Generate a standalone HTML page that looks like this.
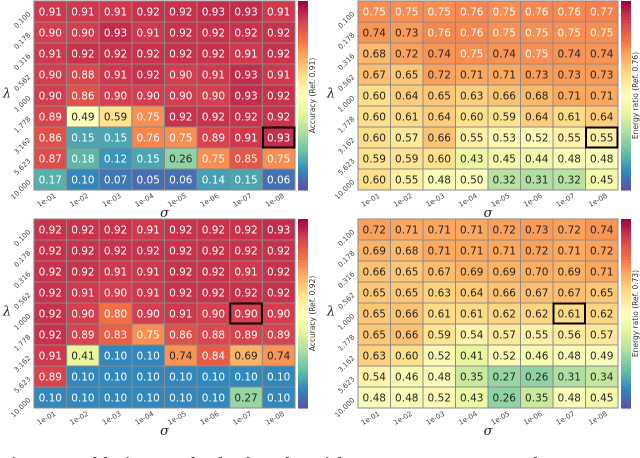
<!DOCTYPE html>
<html><head><meta charset="utf-8">
<style>
html,body{margin:0;padding:0;background:#fff;width:640px;height:458px;overflow:hidden;position:relative}
svg{position:absolute;left:0;top:0}
.cap{position:absolute;left:0;top:454px;font:bold 17px "Liberation Serif",serif;color:#444;white-space:nowrap;letter-spacing:1px}
</style></head><body>
<svg id="fig" width="640" height="458"></svg>
<div class="cap">Figure 4: Ablation results for λ and σ with FAR on CIFAR-10 and ECSSD</div>
<script>
const sigmaLabels = ["1e-01","1e-02","1e-03","1e-04","1e-05","1e-06","1e-07","1e-08"];
const lambdaLabels = ["0.100","0.178","0.316","0.562","1.000","1.778","3.162","5.623","10.000"];
const accTop = [
[0.91,0.91,0.91,0.92,0.92,0.93,0.93,0.91],
[0.90,0.90,0.93,0.91,0.92,0.92,0.92,0.92],
[0.91,0.92,0.92,0.92,0.92,0.92,0.91,0.92],
[0.90,0.88,0.91,0.92,0.90,0.91,0.93,0.91],
[0.90,0.86,0.90,0.90,0.90,0.90,0.93,0.92],
[0.89,0.49,0.59,0.75,0.92,0.92,0.92,0.92],
[0.86,0.15,0.15,0.76,0.75,0.89,0.91,0.93],
[0.87,0.18,0.12,0.15,0.26,0.75,0.85,0.75],
[0.17,0.10,0.07,0.05,0.06,0.14,0.15,0.06]];
const energyTop = [
[0.75,0.75,0.75,0.76,0.75,0.76,0.76,0.77],
[0.74,0.73,0.76,0.76,0.75,0.75,0.75,0.75],
[0.68,0.72,0.74,0.75,0.74,0.75,0.74,0.74],
[0.67,0.65,0.72,0.71,0.71,0.73,0.73,0.73],
[0.60,0.64,0.65,0.63,0.66,0.68,0.71,0.71],
[0.60,0.61,0.64,0.60,0.59,0.64,0.61,0.64],
[0.60,0.57,0.66,0.55,0.53,0.52,0.55,0.55],
[0.59,0.59,0.60,0.43,0.45,0.44,0.48,0.48],
[0.60,0.55,0.48,0.50,0.32,0.31,0.32,0.45]];
const accBottom = [
[0.92,0.92,0.92,0.91,0.92,0.92,0.92,0.93],
[0.92,0.92,0.92,0.92,0.92,0.92,0.92,0.92],
[0.92,0.92,0.91,0.91,0.92,0.92,0.91,0.92],
[0.92,0.91,0.90,0.91,0.92,0.92,0.92,0.92],
[0.92,0.90,0.80,0.90,0.91,0.90,0.90,0.90],
[0.92,0.89,0.83,0.75,0.86,0.88,0.89,0.89],
[0.91,0.41,0.10,0.10,0.74,0.84,0.69,0.74],
[0.89,0.10,0.10,0.10,0.10,0.10,0.10,0.10],
[0.10,0.10,0.10,0.10,0.10,0.10,0.27,0.10]];
const energyBottom = [
[0.72,0.71,0.71,0.71,0.72,0.73,0.72,0.74],
[0.69,0.68,0.71,0.71,0.71,0.72,0.71,0.72],
[0.66,0.65,0.67,0.69,0.69,0.70,0.69,0.71],
[0.65,0.65,0.63,0.64,0.66,0.67,0.67,0.65],
[0.65,0.66,0.61,0.61,0.62,0.62,0.61,0.62],
[0.65,0.66,0.59,0.54,0.57,0.55,0.56,0.57],
[0.63,0.60,0.52,0.41,0.52,0.46,0.48,0.49],
[0.54,0.46,0.48,0.35,0.27,0.26,0.31,0.34],
[0.48,0.48,0.52,0.43,0.26,0.35,0.48,0.45]];
const panelTitles = ["Accuracy (Ref. 0.91)","Energy ratio (Ref. 0.76)","Accuracy (Ref. 0.92)","Energy ratio (Ref. 0.73)"];
const bestCells = [[6,7],[6,7],[4,6],[4,6]];

const stops=["#9e0142","#d53e4f","#f46d43","#fdae61","#fee08b","#ffffbf","#e6f598","#abdda4","#66c2a5","#3288bd","#5e4fa2"];
function hex(h){return [1,3,5].map(i=>parseInt(h.substr(i,2),16));}
function cmap(v){
  let t=(1-Math.max(0,Math.min(1,v)))*(stops.length-1);
  let i=Math.min(Math.floor(t),stops.length-2),f=t-i;
  let a=hex(stops[i]),b=hex(stops[i+1]);
  return "rgb("+a.map((x,k)=>Math.round(x+(b[k]-x)*f)).join(",")+")";
}
const NS="http://www.w3.org/2000/svg";
const svg=document.getElementById("fig");
function mk(tag,attrs,parent){const e=document.createElementNS(NS,tag);for(const k in attrs)e.setAttribute(k,attrs[k]);(parent||svg).appendChild(e);return e;}

function panel(data,x0,y0,w,h,cbx,title,best,pname){
  const g=mk("g",{});
  
  
  const nr=data.length,nc=data[0].length,cw=w/nc,ch=h/nr;
  const xs=c=>x0+c*cw, ys=r=>y0+r*ch;
  for(let r=0;r<nr;r++)for(let c=0;c<nc;c++){
    const v=data[r][c];
    const rc=mk("rect",{x:xs(c),y:ys(r),width:cw,height:ch,fill:cmap(v),stroke:"#8a8a8a","stroke-width":1},g);
    
    
    const t=mk("text",{x:xs(c)+cw/2,y:ys(r)+ch/2+4,"text-anchor":"middle","font-size":"10.5","font-family":"DejaVu Sans, Liberation Sans, sans-serif",fill:(v>=0.75||v<0.22)?"#fff":"#262626"},g);
    t.textContent=v.toFixed(2);
    
    
  }
  const b=mk("rect",{x:xs(best[1])+0.5,y:ys(best[0])+0.5,width:cw-1,height:ch-1,fill:"none",stroke:"#000","stroke-width":2},g);
  
  
  lambdaLabels.forEach((l,r)=>{
    const t=mk("text",{x:0,y:0,"text-anchor":"end","font-size":"7","font-family":"DejaVu Sans, sans-serif",fill:"#444",transform:`translate(${x0-3},${ys(r)+ch/2+3}) rotate(-45)`},g);
    t.textContent=l;
    
    
  });
  sigmaLabels.forEach((l,c)=>{
    const t=mk("text",{x:0,y:0,"text-anchor":"end","font-size":"7","font-family":"DejaVu Sans, sans-serif",fill:"#444",transform:`translate(${xs(c)+cw/2+6},${y0+h+7}) rotate(-30)`},g);
    t.textContent=l;
    
    
  });
  const xl=mk("text",{x:x0+w/2,y:y0+h+27,"text-anchor":"middle","font-size":"13","font-style":"italic","font-family":"DejaVu Serif, Liberation Serif, serif",fill:"#222"},g);
  xl.textContent="σ";
  
  
  const yl=mk("text",{x:x0-27,y:y0+h/2+2,"text-anchor":"middle","font-size":"13","font-style":"italic","font-family":"DejaVu Serif, Liberation Serif, serif",fill:"#222"},g);
  yl.textContent="λ";
  
  
  const n=60;
  for(let i=0;i<n;i++){
    const cr=mk("rect",{x:cbx,y:y0+i*h/n,width:10,height:h/n+0.6,fill:cmap(1-(i+0.5)/n)},g);
    
    
  }
  const ct=mk("text",{x:0,y:0,"text-anchor":"middle","font-size":"7.5","font-family":"DejaVu Sans, sans-serif",fill:"#333",transform:`translate(${cbx+17},${y0+h/2}) rotate(-90)`},g);
  ct.textContent=title;
  
  
}
panel(accTop,34,1,261,189,298,panelTitles[0],bestCells[0],"accuracy-heatmap-top");
panel(energyTop,358,1,260,189,621,panelTitles[1],bestCells[1],"energy-heatmap-top");
panel(accBottom,34,219,261,189,298,panelTitles[2],bestCells[2],"accuracy-heatmap-bottom");
panel(energyBottom,358,219,260,189,621,panelTitles[3],bestCells[3],"energy-heatmap-bottom");
</script>
</body></html>
